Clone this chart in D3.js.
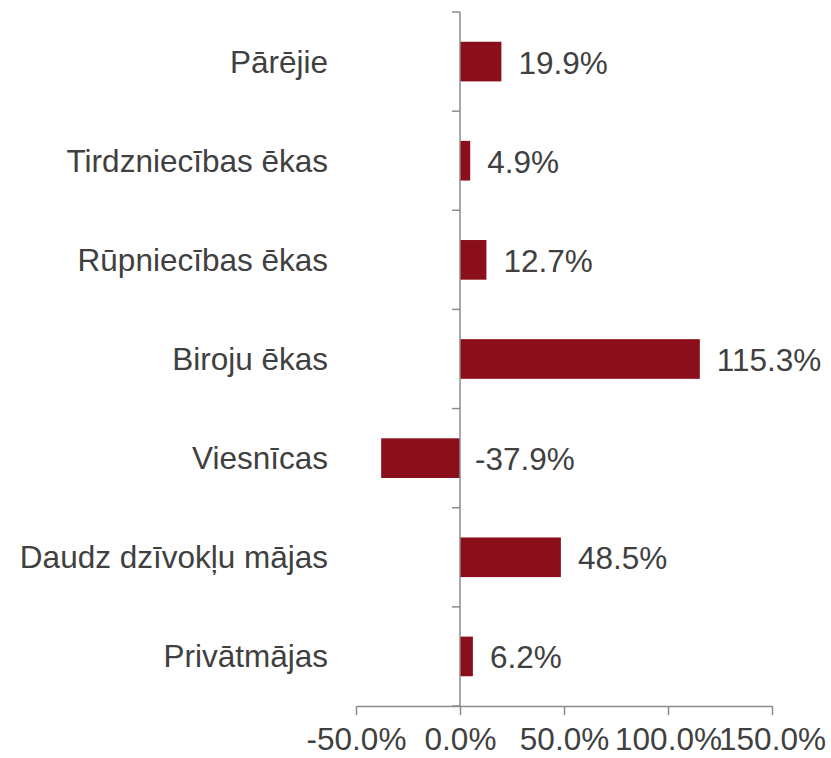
<!DOCTYPE html>
<html>
<head>
<meta charset="utf-8">
<script src="https://cdn.jsdelivr.net/npm/d3@7"></script>
<style>
  body { margin: 0; background: #fff; }
</style>
</head>
<body>
<div id="chart"></div>
<script>
// Data
const categories = ["Pārējie", "Tirdzniecības ēkas", "Rūpniecības ēkas", "Biroju ēkas", "Viesnīcas", "Daudz dzīvokļu mājas", "Privātmājas"];
const values = [19.9, 4.9, 12.7, 115.3, -37.9, 48.5, 6.2];
const xTicks = [-50, 0, 50, 100, 150];

const width = 831;
const height = 758;
const barColor = "#8b0f1a";
const textColor = "#404040";
const axisColor = "#8c8c8c";
const fontSize = 31.5;

const svg = d3.select("#chart")
    .append("svg")
    .attr("width", width)
    .attr("height", height)
    .attr("font-family", "Liberation Sans, Arial, sans-serif");

// Scales
const x = d3.scaleLinear()
    .domain([-50, 150])
    .range([356, 772]);

const y = d3.scaleBand()
    .domain(categories)
    .range([12, 706])
    .paddingInner(0.6)
    .paddingOuter(0.3);

const step = y.step();

// Bars
svg.selectAll("rect.bar")
    .data(values)
    .join("rect")
    .attr("class", "bar")
    .attr("x", d => x(Math.min(0, d)))
    .attr("y", (d, i) => y(categories[i]))
    .attr("width", d => Math.abs(x(d) - x(0)))
    .attr("height", y.bandwidth())
    .attr("fill", barColor);

// Value labels
svg.selectAll("text.value")
    .data(values)
    .join("text")
    .attr("class", "value")
    .attr("x", d => Math.max(x(d), x(0)) + (d < 0 ? 15 : 17))
    .attr("y", (d, i) => y(categories[i]) + y.bandwidth() / 2)
    .attr("dy", "0.38em")
    .attr("font-size", fontSize)
    .attr("fill", textColor)
    .text(d => d.toFixed(1) + "%");

// Vertical category axis at zero
const yAxisG = svg.append("g");
yAxisG.append("line")
    .attr("x1", x(0)).attr("x2", x(0))
    .attr("y1", 12).attr("y2", 706)
    .attr("stroke", axisColor)
    .attr("stroke-width", 1.5);

// Ticks at band boundaries
const boundaries = d3.range(categories.length + 1).map(i => 12 + i * step);
yAxisG.selectAll("line.tick")
    .data(boundaries)
    .join("line")
    .attr("class", "tick")
    .attr("x1", x(0) - 8).attr("x2", x(0))
    .attr("y1", d => d).attr("y2", d => d)
    .attr("stroke", axisColor)
    .attr("stroke-width", 1.5);

// Category labels
svg.selectAll("text.cat")
    .data(categories)
    .join("text")
    .attr("class", "cat")
    .attr("x", 328)
    .attr("y", d => y(d) + y.bandwidth() / 2)
    .attr("dy", "0.35em")
    .attr("text-anchor", "end")
    .attr("font-size", fontSize)
    .attr("fill", textColor)
    .text(d => d);

// Horizontal value axis at the bottom
const xAxis = d3.axisBottom(x)
    .tickValues(xTicks)
    .tickSize(9)
    .tickPadding(13)
    .tickSizeOuter(0)
    .tickFormat(d => d.toFixed(1) + "%");

const xAxisG = svg.append("g")
    .attr("transform", "translate(0,706)")
    .call(xAxis);

xAxisG.select(".domain").attr("stroke", axisColor).attr("stroke-width", 1.5);
xAxisG.selectAll(".tick line").attr("stroke", axisColor).attr("stroke-width", 1.5);
xAxisG.selectAll(".tick text")
    .attr("font-size", fontSize)
    .attr("font-family", "Liberation Sans, Arial, sans-serif")
    .attr("fill", textColor);
</script>
</body>
</html>
